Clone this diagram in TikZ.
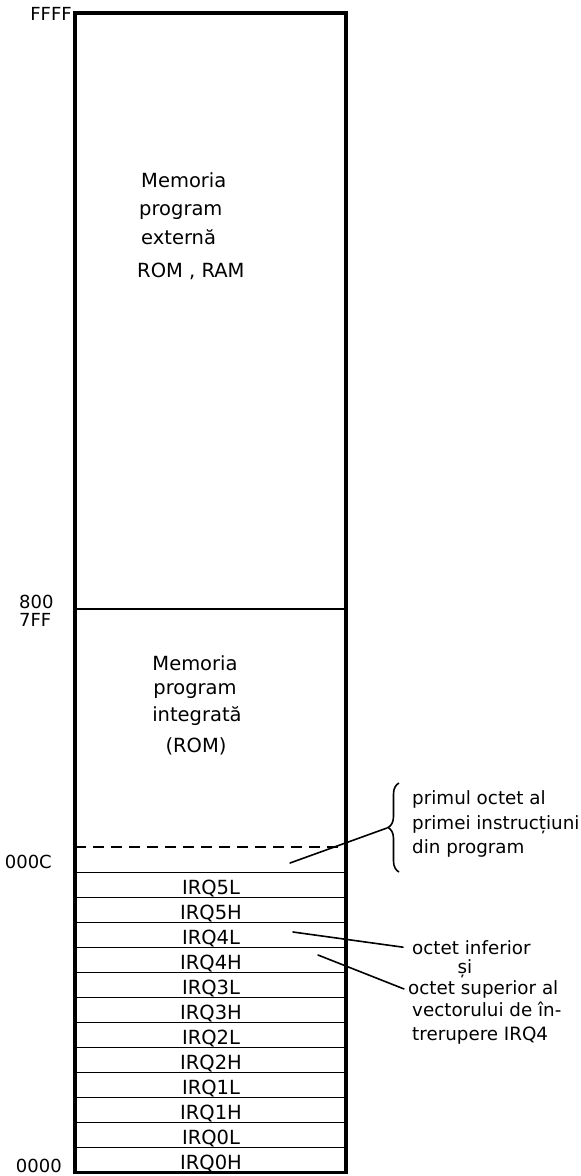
\documentclass[tikz,border=0pt]{standalone}
\usepackage{fontspec}
\setmainfont{DejaVu Sans}
\usetikzlibrary{decorations.pathreplacing}
\begin{document}
\begin{tikzpicture}[x=1pt,y=-1pt,
  outer/.style={line width=3.5pt},
  midline/.style={line width=2.6pt},
  rowline/.style={line width=1.4pt},
  dashline/.style={line width=1.5pt, dash pattern=on 11pt off 7pt},
  leader/.style={line width=1.6pt, line cap=round},
  txt/.style={font=\fontsize{18.3}{24}\selectfont, inner sep=0pt},
  big/.style={font=\fontsize{19.5}{24}\selectfont, inner sep=0pt},
  addr/.style={font=\fontsize{18}{20}\selectfont, inner sep=0pt},
  irq/.style={font=\fontsize{19.5}{24}\selectfont, inner sep=0pt, anchor=base}
]
\useasboundingbox (0,0) rectangle (581,1176);

% main box corners
\coordinate (tl) at (75,13);
\coordinate (br) at (346,1172.5);
\coordinate (ml) at (75,609);
\coordinate (mr) at (346,609);
\coordinate (dl) at (75,847);
\coordinate (dr) at (346,847);

% rows
\foreach \i in {0,...,11} {
  \draw[rowline] (75,{872.5+25*\i}) -- (346,{872.5+25*\i});
}
\foreach \lab [count=\i from 0] in {IRQ5L,IRQ5H,IRQ4L,IRQ4H,IRQ3L,IRQ3H,IRQ2L,IRQ2H,IRQ1L,IRQ1H,IRQ0L,IRQ0H} {
  \node[irq] (r\lab) at (211,{872.5+25*(\i+1)-3}) {\lab};
}

\draw[dashline] (dl) -- (dr);
\draw[midline] (ml) -- (mr);
\draw[outer] (tl) rectangle (br);

% address labels
\node[addr, anchor=base east] (aFFFF) at (72,20) {FFFF};
\node[addr, anchor=base west] (a800) at (19,608) {800};
\node[addr, anchor=base west] (a7FF) at (19,626) {7FF};
\node[addr, anchor=base east] (a000C) at (52,868) {000C};
\node[addr, anchor=base east] (a0000) at (62,1172) {0000};

% external memory text
\node[big, anchor=base west] (e1) at (141,187) {Memoria};
\node[big, anchor=base west] (e2) at (139,215) {program};
\node[big, anchor=base west] (e3) at (141,244) {externă};
\node[big, anchor=base west] (e4) at (137,277) {ROM , RAM};

% integrated memory text
\node[big, anchor=base] (i1) at (195,670) {Memoria};
\node[big, anchor=base] (i2) at (195,694) {program};
\node[big, anchor=base] (i3) at (197,721) {integrată};
\node[big, anchor=base] (i4) at (196,752) {(ROM)};

% brace annotation
\coordinate (bb) at (399,872);
\coordinate (bt) at (399,783);
\draw[line width=1.6pt, decorate, decoration={brace, amplitude=11pt}] (bb) -- (bt);
\coordinate (btip) at (387,828);
\coordinate (pfirst) at (290,863);
\draw[leader] (btip) -- (pfirst);
\node[txt, anchor=base west] (n1) at (412,804) {primul octet al};
\node[txt, anchor=base west] (n2) at (412,829) {primei instrucțiuni};
\node[txt, anchor=base west] (n3) at (412,853) {din program};

% vector annotation
\coordinate (p4l) at (293,932);
\coordinate (p4h) at (318,955);
\node[txt, anchor=base west] (v1) at (412,954) {octet inferior};
\node[txt, anchor=base] (v2) at (465,973) {și};
\node[txt, anchor=base west] (v3) at (408,994) {octet superior al};
\node[txt, anchor=base west] (v4) at (412,1016) {vectorului de în-};
\node[txt, anchor=base west] (v5) at (412,1040) {trerupere IRQ4};
\draw[leader] (p4l) -- ([xshift=-9pt]v1.west);
\draw[leader] (p4h) -- ([xshift=-4pt]v3.west);
\end{tikzpicture}
\end{document}
